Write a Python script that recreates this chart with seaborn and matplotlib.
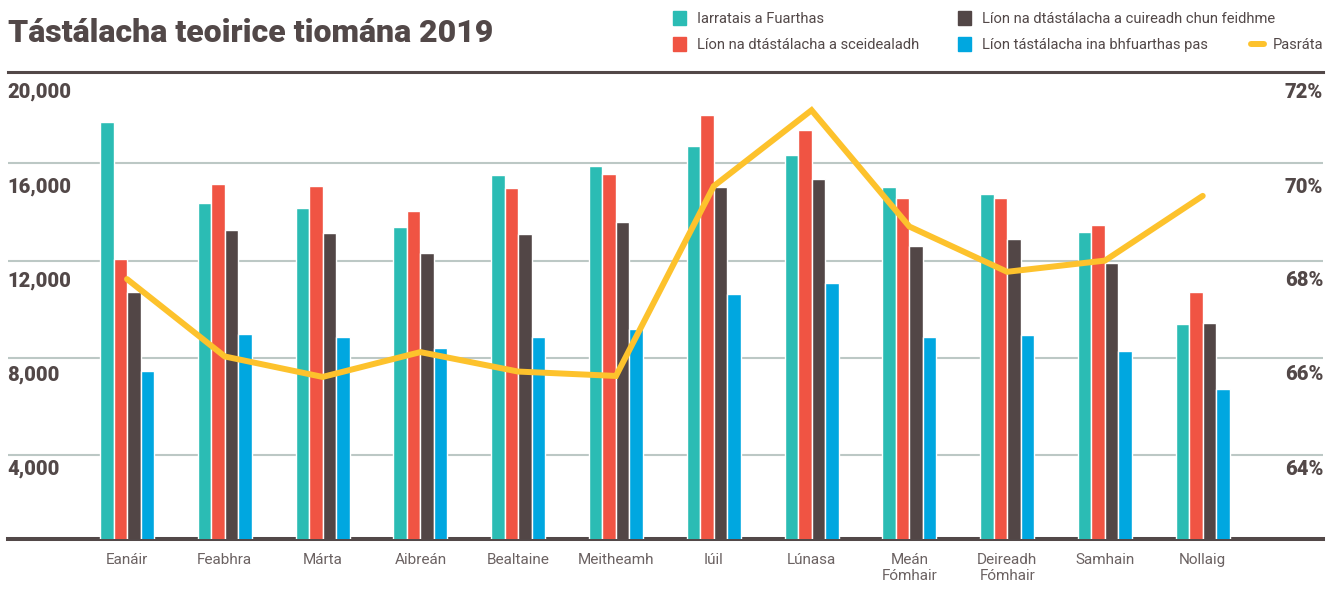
import numpy as np
import pandas as pd
import seaborn as sns
import matplotlib.pyplot as plt
from matplotlib.patches import Rectangle
from matplotlib.lines import Line2D

# data
months = ['Eanáir', 'Feabhra', 'Márta', 'Aibreán', 'Bealtaine', 'Meitheamh',
          'Iúil', 'Lúnasa', 'Meán\nFómhair', 'Deireadh\nFómhair', 'Samhain', 'Nollaig']
iarratais = [17700, 14370, 14160, 13380, 15520, 15890, 16710, 16340, 15030, 14740, 13180, 9400]
sceidealadh = [12070, 15150, 15070, 14040, 14980, 15560, 17990, 17370, 14570, 14570, 13460, 10710]
cuireadh = [10710, 13260, 13140, 12310, 13100, 13590, 15030, 15350, 12600, 12890, 11900, 9440]
pas = [7460, 8980, 8860, 8410, 8860, 9190, 10630, 11080, 8860, 8940, 8290, 6720]
pasrata = [67.62, 66.03, 65.61, 66.12, 65.72, 65.63, 69.53, 71.09, 68.70, 67.77, 68.00, 69.33]

series = ['Iarratais a Fuarthas', 'Líon na dtástálacha a sceidealadh',
          'Líon na dtástálacha a cuireadh chun feidhme', 'Líon tástálacha ina bhfuarthas pas']
colors = ['#2bbcb4', '#f05443', '#524646', '#00a7e0']
yellow = '#fdc22c'
dark = '#524848'
grey_txt = '#6b6262'

left_ticks = [4000, 8000, 12000, 16000]
right_ticks = ['64%', '66%', '68%', '70%']
label_drop = [14, 17, 20, 24]  # px below each gridline

df = pd.DataFrame({
    'month': months * 4,
    'value': iarratais + sceidealadh + cuireadh + pas,
    'series': np.repeat(series, len(months)),
})

sns.set_theme(style='white')
plt.rcParams['font.family'] = ['Roboto', 'DejaVu Sans']

W, H = 1337, 597
fig = plt.figure(figsize=(W / 100, H / 100), dpi=100)
ax = fig.add_axes([8 / W, 1 - 539 / H, 1315 / W, (539 - 72) / H])

sns.barplot(data=df, x='month', y='value', hue='series', hue_order=series,
            palette=colors, saturation=1, width=0.552, edgecolor='white',
            linewidth=1, ax=ax, legend=False, zorder=3)

ymin, ymax = 560, 19750
ax.set_ylim(ymin, ymax)
ax.set_xlim(-1.217, 12.23)

# gridlines
for v in left_ticks:
    ax.axhline(v, color='#bcc8c5', lw=1.5, zorder=1)

for s in ['left', 'right']:
    ax.spines[s].set_visible(False)
ax.spines['bottom'].set_color(dark)
ax.spines['bottom'].set_linewidth(2.9)
ax.spines['top'].set_color(dark)
ax.spines['top'].set_linewidth(2.2)

ax.set_yticks([])
ax.set_xticks(range(len(months)))
ax.set_xticklabels(months, fontsize=11, color=grey_txt, linespacing=1.2)
ax.tick_params(axis='x', length=0, pad=10)
ax.set_xlabel('')
ax.set_ylabel('')

# y labels sit below each gridline
lab_kw = dict(textcoords='offset pixels', va='center', fontsize=14.5,
              fontweight='heavy', color=dark)
for v, t, d in zip(left_ticks, right_ticks, label_drop):
    ax.annotate(f'{v:,}', xy=(0, v), xycoords=('axes fraction', 'data'),
                xytext=(-1, -d), ha='left', **lab_kw)
    ax.annotate(t, xy=(1, v), xycoords=('axes fraction', 'data'),
                xytext=(0, -d), ha='right', **lab_kw)
ax.annotate('20,000', xy=(0, 1), xycoords='axes fraction',
            xytext=(-1, -20), ha='left', **lab_kw)
ax.annotate('72%', xy=(1, 1), xycoords='axes fraction',
            xytext=(0, -20), ha='right', **lab_kw)

# pass rate on secondary axis
ax2 = ax.twinx()
sns.lineplot(x=np.arange(len(months)), y=pasrata, ax=ax2, color=yellow,
             lw=4.3, solid_capstyle='round', solid_joinstyle='miter')
ax2.set_ylim(62 + ymin / 2000, 62 + ymax / 2000)
ax2.set_xlim(-1.217, 12.23)
ax2.set_yticks([])
for s in ax2.spines.values():
    s.set_visible(False)

# title
fig.text(8 / W, 1 - 33 / H, 'Tástálacha teoirice tiomána 2019', fontsize=23,
         fontweight='heavy', color=dark, va='center', ha='left')

# legend
def px(x, y):
    return x / W, 1 - y / H

leg = [(673, 18, 0), (673, 44, 1), (958, 18, 2), (958, 44, 3)]
for x, y, i in leg:
    fig.add_artist(Rectangle(px(x, y + 7), 13 / W, 14 / H, color=colors[i],
                             transform=fig.transFigure))
    fig.text(*px(x + 24, y + 1), series[i], fontsize=10.6, color=dark, va='center')
fig.add_artist(Line2D([1251 / W, 1264 / W], [1 - 44 / H] * 2, color=yellow,
                      lw=4.3, solid_capstyle='round', transform=fig.transFigure))
fig.text(*px(1273, 45), 'Pasráta', fontsize=10.6, color=dark, va='center')

fig.savefig('out.png', dpi=100)
